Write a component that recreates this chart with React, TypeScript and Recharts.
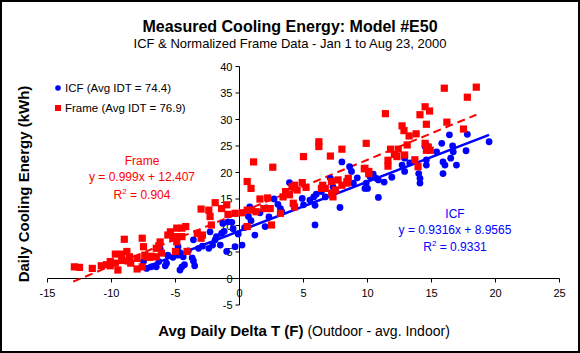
import React from "react";
import {
  ComposedChart,
  Scatter,
  Line,
  XAxis,
  YAxis,
  ReferenceLine,
  ReferenceDot,
  Legend,
} from "recharts";

const FONT = "'Liberation Sans', Arial, sans-serif";
const BLUE = "#0000FF";
const RED = "#FF0000";

const xTicks = [-15, -10, -5, 0, 5, 10, 15, 20, 25];
const yTicks = [-5, 0, 5, 10, 15, 20, 25, 30, 35, 40];

// [delta T (F), kWh]
const icfPoints: [number, number][] = [
  [-7.5, 3.2], [-7.25, 1.9], [-6.9, 2.2], [-6.5, 2.2], [-6.3, 3.2], [-6.2, 5.7],
  [-5.7, 2.9], [-5.8, 2.4], [-5.6, 4.4], [-5.2, 4.0], [-4.8, 6.0], [-4.8, 4.4],
  [-4.65, 4.9], [-4.5, 2.2], [-4.65, 1.6], [-4.3, 2.6], [-4.4, 4.1], [-4.0, 5.2],
  [-3.6, 7.3], [-3.6, 3.3], [-3.5, 2.4], [-3.7, 3.9], [-3.2, 5.7], [-2.9, 6.1],
  [-2.4, 5.7], [-2.3, 8.8], [-2.1, 6.3], [-1.9, 7.3], [-1.8, 7.9], [-1.5, 6.3],
  [-1.4, 8.5], [-1.2, 8.9], [-1.0, 5.1], [-1.3, 10.4], [-0.9, 10.7], [-0.6, 10.6],
  [-0.5, 9.4], [-0.35, 6.0], [0.2, 6.3], [-0.1, 8.4], [0.4, 9.6], [0.7, 11.7],
  [0.8, 13.5], [0.9, 10.9], [1.2, 8.2], [2.0, 9.8], [1.6, 12.4], [2.3, 11.6],
  [2.1, 13.3], [2.7, 15.0], [3.0, 14.0], [3.2, 13.2], [3.3, 12.6], [3.9, 18.1],
  [4.2, 13.9], [4.9, 15.1], [5.0, 13.9], [5.5, 14.8], [5.8, 15.4], [5.9, 13.8],
  [5.9, 10.1], [6.4, 16.4], [6.7, 15.4], [7.1, 18.9], [7.3, 17.3], [7.85, 13.4],
  [8.0, 22.0], [8.6, 21.1], [8.75, 20.2], [8.9, 18.0], [9.8, 17.0], [9.9, 18.0],
  [10.0, 17.0], [10.45, 19.7], [10.7, 18.9], [10.85, 15.3], [10.2, 19.2], [10.85, 18.6],
  [11.9, 19.1], [12.7, 21.4], [12.9, 20.2], [12.9, 22.7], [14.0, 19.8], [14.1, 18.9],
  [14.1, 18.0], [14.6, 25.2], [14.6, 22.4], [14.6, 21.4], [15.4, 23.9], [15.8, 25.5],
  [15.9, 22.0], [16.05, 21.4], [15.9, 19.8], [16.4, 27.1], [16.65, 25.0], [16.5, 22.7],
  [16.95, 21.4], [17.7, 24.1], [17.8, 27.2], [19.5, 25.8], [16.7, 23.9], [14.5, 24.9],
  [13.3, 21.8], [11.3, 18.2], [9.2, 19.0], [6.0, 15.9],
];

const framePoints: [number, number][] = [
  [-12.9, 2.2], [-12.5, 2.1], [-11.5, 1.9], [-10.8, 2.4], [-10.1, 2.4], [-10.4, 2.6],
  [-9.5, 1.6], [-9.7, 2.9], [-9.7, 4.6], [-9.2, 4.6], [-8.8, 5.1], [-9.0, 7.4],
  [-8.6, 4.1], [-8.0, 3.8], [-7.6, 7.6], [-7.5, 6.0], [-8.0, 1.8], [-7.6, 2.2],
  [-8.5, 2.9], [-8.7, 3.3], [-9.2, 3.4], [-10.1, 3.2], [-7.3, 4.1], [-6.9, 4.2],
  [-6.5, 4.1], [-6.1, 4.8], [-6.2, 6.9], [-6.3, 6.2], [-6.5, 5.7], [-7.0, 4.0],
  [-7.4, 4.4], [-5.4, 8.8], [-5.6, 8.2], [-4.9, 9.5], [-4.5, 9.5], [-4.2, 9.8],
  [-5.0, 7.9], [-4.5, 7.9], [-4.1, 5.1], [-4.9, 6.9], [-5.2, 7.6], [-5.0, 5.1],
  [-3.3, 8.5], [-3.0, 7.6], [-2.9, 8.2], [-3.0, 13.1], [-2.4, 12.9], [-2.3, 11.7],
  [-1.9, 14.3], [-1.4, 13.2], [-1.0, 13.9], [-0.9, 12.1], [-0.35, 12.3], [-2.2, 10.1],
  [0.2, 12.4], [0.6, 18.3], [0.9, 17.0], [1.1, 22.0], [2.6, 21.0], [0.6, 12.9],
  [0.95, 12.9], [1.6, 15.0], [2.2, 15.2], [2.5, 10.1], [0.6, 9.8], [1.3, 12.6],
  [1.9, 13.2], [2.4, 13.2], [3.2, 12.3], [3.4, 15.4], [3.6, 16.4], [4.1, 17.3],
  [4.5, 16.7], [4.9, 18.1], [5.2, 17.2], [4.2, 14.2], [4.3, 13.5], [3.9, 15.8],
  [4.3, 17.6], [5.0, 23.0], [6.2, 25.8], [6.2, 24.9], [7.1, 23.1], [8.0, 24.4],
  [9.9, 25.5], [6.4, 17.0], [6.5, 17.6], [7.2, 18.3], [7.7, 18.6], [8.0, 17.6],
  [8.4, 18.3], [8.5, 18.9], [8.4, 18.0], [7.3, 15.4], [7.5, 16.7], [7.2, 16.1],
  [6.7, 17.0], [9.8, 20.8], [10.1, 20.2], [9.75, 20.7], [10.1, 19.8], [11.4, 31.1],
  [14.1, 30.9], [14.5, 32.4], [14.85, 31.6], [14.6, 29.1], [16.0, 35.9], [17.8, 34.2],
  [18.5, 36.1], [16.2, 29.5], [17.5, 28.2], [12.7, 28.8], [12.85, 27.9], [13.25, 26.9],
  [13.8, 27.3], [14.5, 25.5], [14.75, 24.8], [14.9, 24.2], [14.6, 24.2], [11.8, 24.4],
  [12.4, 24.4], [12.1, 23.4], [12.3, 23.0], [12.9, 23.3], [13.1, 25.2], [11.6, 22.3],
  [11.6, 21.2], [13.7, 22.4], [13.95, 21.1],
];

// trendline end points as drawn
const icfFit: [number, number][] = [[-7.5, 2.0], [19.5, 27.1]];
const frameFit: [number, number][] = [[-13, -0.6], [18.5, 30.9]];

const toRows = (pts: [number, number][]) => pts.map(([x, y]) => ({ x, y }));

const BlueDot = (props: any) => <circle cx={props.cx} cy={props.cy} r={3.4} fill={BLUE} />;
const RedSquare = (props: any) => (
  <rect x={props.cx - 3.6} y={props.cy - 3.6} width={7.2} height={7.2} fill={RED} />
);

const xTickShape = (t: number) => (p: any) => (
  <g>
    <line x1={p.cx} y1={p.cy} x2={p.cx} y2={p.cy + 4} stroke="#000" />
    <text x={p.cx} y={p.cy + 18} textAnchor="middle" fontSize={11} fontFamily={FONT} fill="#000">
      {t}
    </text>
  </g>
);

const yTickShape = (t: number) => (p: any) => (
  <g>
    <line x1={p.cx - 4} y1={p.cy} x2={p.cx} y2={p.cy} stroke="#000" />
    <text x={p.cx - 7} y={p.cy + 4} textAnchor="end" fontSize={11} fontFamily={FONT} fill="#000">
      {t}
    </text>
  </g>
);

const LegendBox = () => (
  <div style={{ fontFamily: FONT, fontSize: 11.5, color: "#000", lineHeight: "20px" }}>
    <div style={{ display: "flex", alignItems: "center", height: 20 }}>
      <svg width={8} height={8}>
        <circle cx={4} cy={4} r={2.8} fill={BLUE} />
      </svg>
      <span style={{ marginLeft: 3, whiteSpace: "nowrap" }}>ICF (Avg IDT = 74.4)</span>
    </div>
    <div style={{ display: "flex", alignItems: "center", height: 20 }}>
      <svg width={8} height={8}>
        <rect x={1} y={1} width={6} height={6} fill={RED} />
      </svg>
      <span style={{ marginLeft: 3, whiteSpace: "nowrap" }}>Frame (Avg IDT = 76.9)</span>
    </div>
  </div>
);

export default function App() {
  return (
    <div style={{ position: "relative", width: 580, height: 353, fontFamily: FONT }}>
      <style>{"body{margin:0}"}</style>
      <svg width={580} height={353} style={{ position: "absolute", left: 0, top: 0 }} fontFamily={FONT}>
        <rect x={1} y={1} width={578} height={351} fill="#fff" stroke="#000" strokeWidth={2} />
        <text x={290} y={31.5} textAnchor="middle" fontSize={16} fontWeight="bold">
          Measured Cooling Energy: Model #E50
        </text>
        <text x={290} y={47.5} textAnchor="middle" fontSize={13}>
          {"ICF & Normalized Frame Data - Jan 1 to Aug 23, 2000"}
        </text>
        <text
          x={28.5}
          y={184}
          transform="rotate(-90 28.5 184)"
          textAnchor="middle"
          fontSize={15}
          fontWeight="bold"
        >
          Daily Cooling Energy (kWh)
        </text>
        <text x={304} y={336} textAnchor="middle">
          <tspan fontSize={15} fontWeight="bold">Avg Daily Delta T (F)</tspan>
          <tspan fontSize={14}> (Outdoor - avg. Indoor)</tspan>
        </text>
        <g fill={RED} fontSize={12} textAnchor="middle">
          <text x={142} y={165}>Frame</text>
          <text x={142} y={181}>y = 0.999x + 12.407</text>
          <text x={142} y={198.5}>
            R<tspan fontSize={8} dy={-5}>2</tspan>
            <tspan dy={5}> = 0.904</tspan>
          </text>
        </g>
        <g fill={BLUE} fontSize={12} textAnchor="middle">
          <text x={455} y={217.5}>ICF</text>
          <text x={455} y={233.5}>y = 0.9316x + 8.9565</text>
          <text x={455} y={250.5}>
            R<tspan fontSize={8} dy={-5}>2</tspan>
            <tspan dy={5}> = 0.9331</tspan>
          </text>
        </g>
      </svg>
      <div style={{ position: "absolute", left: 0, top: 0 }}>
        <ComposedChart
          width={580}
          height={353}
          margin={{ top: 66.5, right: 20.5, bottom: 48, left: 47.5 }}
        >
          <XAxis type="number" dataKey="x" domain={[-15, 25]} hide allowDataOverflow />
          <YAxis type="number" dataKey="y" domain={[-5, 40]} hide allowDataOverflow />
          <ReferenceLine y={0} stroke="#000" strokeWidth={1} />
          <ReferenceLine x={0} stroke="#000" strokeWidth={1} />
          {xTicks.map((t) => (
            <ReferenceDot key={"xt" + t} x={t} y={0} r={0} shape={xTickShape(t)} />
          ))}
          {yTicks.map((t) => (
            <ReferenceDot key={"yt" + t} x={0} y={t} r={0} shape={yTickShape(t)} />
          ))}
          <Scatter name="ICF" data={toRows(icfPoints)} shape={BlueDot} isAnimationActive={false} />
          <Scatter name="Frame" data={toRows(framePoints)} shape={RedSquare} isAnimationActive={false} />
          <Line
            data={toRows(icfFit)}
            dataKey="y"
            type="linear"
            stroke={BLUE}
            strokeWidth={2.5}
            dot={false}
            activeDot={false}
            legendType="none"
            isAnimationActive={false}
          />
          <Line
            data={toRows(frameFit)}
            dataKey="y"
            type="linear"
            stroke={RED}
            strokeWidth={2}
            strokeDasharray="8 5"
            dot={false}
            activeDot={false}
            legendType="none"
            isAnimationActive={false}
          />
          <Legend
            layout="vertical"
            align="center"
            verticalAlign="middle"
            wrapperStyle={{ left: 54, top: 78, width: 200 }}
            content={() => <LegendBox />}
          />
        </ComposedChart>
      </div>
    </div>
  );
}
